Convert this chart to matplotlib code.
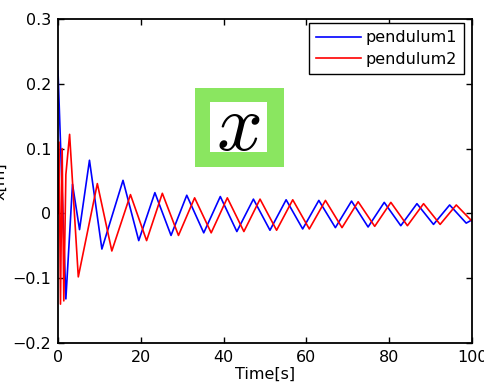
import matplotlib
matplotlib.use('Agg')
import matplotlib.pyplot as plt
from matplotlib.patches import Rectangle

# turning points of each pendulum's horizontal position
t_p1 = [0, 1.9, 3.5, 5.2, 7.6, 10.6, 15.7, 19.5, 23.4, 27.3, 31.1, 35.2, 39.2, 43.2,
        47.2, 51.2, 55.1, 59.1, 63.0, 67.0, 70.9, 74.9, 78.8, 82.8, 86.7, 90.7,
        94.6, 98.6, 100]
x_p1 = [0.22, -0.132, 0.045, -0.025, 0.082, -0.055, 0.051, -0.042, 0.032, -0.034,
        0.028, -0.030, 0.026, -0.028, 0.022, -0.026, 0.021, -0.024, 0.020, -0.022,
        0.019, -0.021, 0.017, -0.019, 0.015, -0.017, 0.013, -0.015, -0.010]

t_p2 = [0, 0.25, 0.6, 1.0, 1.4, 1.9, 2.8, 4.9, 9.5, 13.0, 17.5, 21.4, 25.2, 29.1,
        33.0, 37.0, 40.9, 44.9, 48.8, 52.8, 56.7, 60.7, 64.6, 68.6, 72.5, 76.5,
        80.4, 84.4, 88.3, 92.3, 96.2, 100]
x_p2 = [0.0, 0.11, -0.14, 0.10, -0.135, 0.06, 0.122, -0.098, 0.046, -0.058, 0.029,
        -0.042, 0.031, -0.034, 0.024, -0.030, 0.024, -0.028, 0.022, -0.026, 0.021,
        -0.024, 0.020, -0.022, 0.018, -0.020, 0.017, -0.019, 0.015, -0.017, 0.013,
        -0.012]

xticks = [0, 20, 40, 60, 80, 100]
yticks = [-0.2, -0.1, 0, 0.1, 0.2, 0.3]
ytick_labels = ['\u22120.2', '\u22120.1', '0', '0.1', '0.2', '0.3']

plt.rcParams['font.family'] = 'DejaVu Sans'
plt.rcParams['mathtext.fontset'] = 'cm'

fig = plt.figure(figsize=(4.85, 3.91), dpi=100)
ax = fig.add_axes([0.1196, 0.1228, 0.8536, 0.8286])

ax.plot(t_p1, x_p1, color='blue', lw=1.2, label='pendulum1', solid_joinstyle='round')
ax.plot(t_p2, x_p2, color='red', lw=1.2, label='pendulum2', solid_joinstyle='round')

ax.set_xlim(0, 100)
ax.set_ylim(-0.2, 0.3)
ax.set_xticks(xticks)
ax.set_yticks(yticks)
ax.set_yticklabels(ytick_labels)
ax.tick_params(direction='in', length=4, width=1, top=True, right=True,
               labelsize=11.5, pad=5)
for s in ax.spines.values():
    s.set_linewidth(1.3)

ax.set_xlabel('Time[s]', fontsize=11.5, labelpad=1)
ax.set_ylabel('x[m]', fontsize=11.5)
ax.yaxis.set_label_coords(-0.123, 0.5)

leg = ax.legend(loc='upper right', bbox_to_anchor=(0.9567, 0.9412),
                bbox_transform=fig.transFigure, fontsize=11.5, frameon=True,
                fancybox=False, framealpha=1, edgecolor='black',
                handlelength=2.8, handletextpad=0.3, labelspacing=0.4,
                borderpad=0.45, borderaxespad=0)
leg.get_frame().set_linewidth(1.0)

# green label box with the variable name
fig.patches.append(Rectangle((0.402, 0.5729), 0.1836, 0.2021,
                             transform=fig.transFigure, facecolor='#8ae660',
                             edgecolor='none', zorder=5))
fig.patches.append(Rectangle((0.433, 0.611), 0.1175, 0.128,
                             transform=fig.transFigure, facecolor='white',
                             edgecolor='none', zorder=6))
fig.text(0.4915, 0.672, r'$x$', fontsize=58, ha='center', va='center', zorder=7)

fig.savefig('out.png', dpi=100)
